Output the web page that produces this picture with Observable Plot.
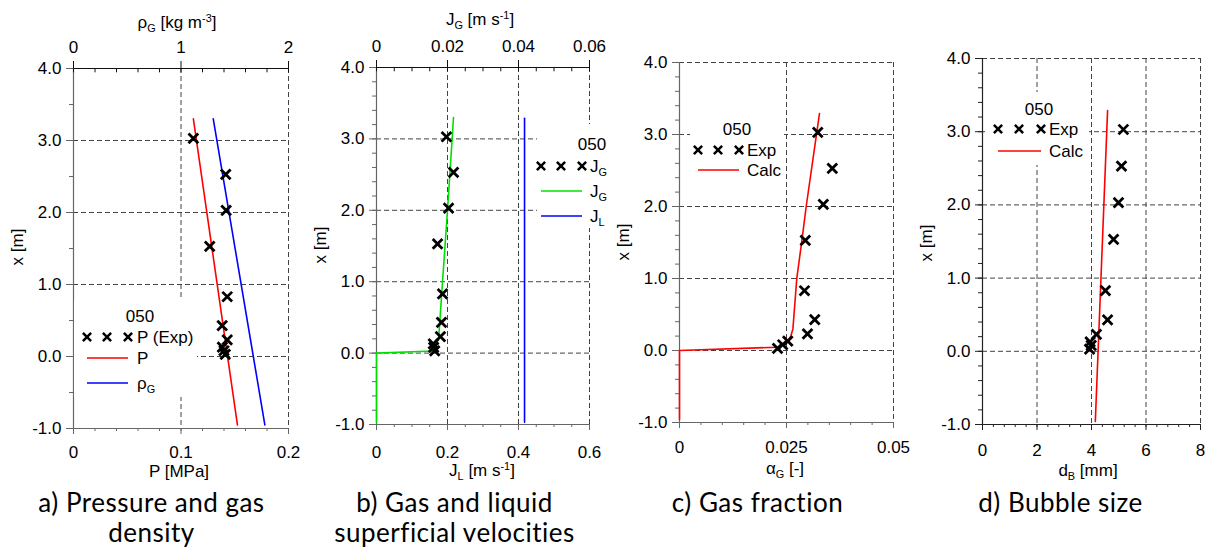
<!DOCTYPE html>
<html>
<head>
<meta charset="utf-8">
<script src="https://cdn.jsdelivr.net/npm/d3@7"></script>
<script src="https://cdn.jsdelivr.net/npm/@observablehq/plot@0.6"></script>
<style>
  body { margin: 0; background: #fff; }
  #fig { position: relative; width: 1212px; height: 549px; overflow: hidden; background: #fff;
         font-family: "Liberation Sans", Arial, sans-serif; }
  .panel { position: absolute; top: 0; width: 303px; }
  .caption { position: absolute; width: 303px; text-align: center; font-family: Lato, "Open Sans", sans-serif;
             font-size: 26px; line-height: 30px; letter-spacing: 0.5px; color: #000; white-space: nowrap; }
</style>
</head>
<body>
<div id="fig"></div>
<script>
// ---- Measurement ports along the column [m] ----
const expX = [3.03, 2.53, 2.03, 1.53, 0.83, 0.43, 0.23, 0.13, 0.08, 0.03];

// ---- a) Pressure and gas density ----
const pExp = [0.1115, 0.1416, 0.1420, 0.1267, 0.1430, 0.1383, 0.1430, 0.1385, 0.1400, 0.1412]; // MPa
const calcXa = [3.3, -0.95];
const pCalc = [0.1115, 0.1525];   // MPa
const rhoCalc = [1.30, 1.78];     // kg m-3

// ---- b) Superficial velocities ----
const jgExp = [0.0197, 0.0217, 0.0203, 0.0172, 0.0186, 0.0183, 0.0180, 0.0160, 0.0161, 0.0164]; // m/s
const calcXjg = [3.3, 2.0, 1.0, 0.2, 0.03, 0.0, -0.97];
const jgCalc = [0.0217, 0.0200, 0.0186, 0.0175, 0.0158, 0.0, 0.0];
const calcXjl = [3.29, -0.97];
const jlCalc = [0.417, 0.417];

// ---- c) Gas fraction ----
const alphaExp = [0.0323, 0.0357, 0.0336, 0.0294, 0.0292, 0.0316, 0.0299, 0.0253, 0.0241, 0.0229];
const calcXalpha = [3.29, 2.0, 1.53, 1.0, 0.3, 0.2, 0.115, 0.046, 0.0, -0.96];
const alphaCalc = [0.0327, 0.0296, 0.0286, 0.0274, 0.0265, 0.0260, 0.0251, 0.0229, 0.0, 0.0];

// ---- d) Bubble size ----
const dbExp = [5.17, 5.10, 4.99, 4.81, 4.51, 4.59, 4.18, 3.95, 3.99, 3.93]; // mm
const calcXdb = [3.29, -0.96];
const dbCalc = [4.59, 4.14];

// ---- Tick values and labels ----
const yTicks = [-1, 0, 1, 2, 3, 4];
const pTicks = [0, 0.1, 0.2],          pLabels = ["0", "0.1", "0.2"];
const rhoTicks = [0, 1, 2],            rhoLabels = ["0", "1", "2"];
const jlTicks = [0, 0.2, 0.4, 0.6],    jlLabels = ["0", "0.2", "0.4", "0.6"];
const jgTicks = [0, 0.02, 0.04, 0.06], jgLabels = ["0", "0.02", "0.04", "0.06"];
const alphaTicks = [0, 0.025, 0.05],   alphaLabels = ["0", "0.025", "0.05"];
const dbTicks = [0, 2, 4, 6, 8],       dbLabels = ["0", "2", "4", "6", "8"];

// secondary-axis scale factors (top axis value -> bottom axis units)
const RHO_TO_P = 0.1;
const JG_TO_JL = 10;

const RED = "#ff0000", BLUE = "#0000ff", GREEN = "#00e000";
const W = 303, H = 480;
const FS = 17; // base font size

const rows = (xs, cols) => xs.map((x, i) => {
  const r = {x};
  for (const k in cols) r[k] = cols[k][i];
  return r;
});
const fmtY = d => (d < 0 ? "-" : "") + Math.abs(d).toFixed(1);
const tickLabel = (ticks, labels, k = 1) => d => {
  const i = ticks.findIndex(t => Math.abs(t * k - d) < 1e-9);
  return i < 0 ? "" : labels[i];
};
const GRID = {stroke: "#444", strokeOpacity: 1, strokeDasharray: "5,3", strokeWidth: 1};

// Text with sub/superscript parts: [[text, "sub"|"sup"|""], ...]
function richText(g, x, y, parts, {size = FS, anchor = "middle", rotate = 0} = {}) {
  const t = g.append("text")
    .attr("transform", `translate(${x},${y})` + (rotate ? ` rotate(${rotate})` : ""))
    .attr("text-anchor", anchor)
    .attr("font-size", size)
    .attr("fill", "#000");
  let shift = 0;
  for (const [s, kind] of parts) {
    const target = kind === "sub" ? 3.5 : kind === "sup" ? -6 : 0;
    const ts = t.append("tspan").text(s).attr("dy", target - shift);
    if (kind) ts.attr("font-size", size * 0.64);
    shift = target;
  }
  return t;
}

function legend(svg, spec) {
  const g = d3.select(svg).append("g").attr("font-size", FS);
  g.append("rect").attr("x", spec.box[0]).attr("y", spec.box[1])
    .attr("width", spec.box[2] - spec.box[0]).attr("height", spec.box[3] - spec.box[1])
    .attr("fill", "#fff");
  g.append("text").attr("x", spec.titleX).attr("y", spec.titleY).attr("dy", "0.35em")
    .attr("text-anchor", "middle").text("050");
  for (const r of spec.rows) {
    if (r.type === "dot") {
      for (const x of spec.xs) {
        g.append("path").attr("d", d3.symbol(d3.symbolTimes, 46)())
          .attr("transform", `translate(${x},${r.y})`)
          .attr("fill", "none").attr("stroke", "#000").attr("stroke-width", 2.5);
      }
    } else {
      g.append("line").attr("x1", spec.xs[0]).attr("x2", spec.xs[spec.xs.length - 1])
        .attr("y1", r.y).attr("y2", r.y).attr("stroke", r.stroke).attr("stroke-width", 1.6);
    }
    richText(g, spec.textX, r.y + 6, r.label, {size: FS, anchor: "start"});
  }
}

function panel(o) {
  const yMinor = d3.range(-1, 4.0001, o.yMinorStep);
  const marks = [
    Plot.gridX(o.xGrid, GRID),
    Plot.gridY(o.yGrid, GRID),
    // left axis
    Plot.axisY(yMinor, {tickSize: 4, tickFormat: () => "", label: null, stroke: o.axisColor}),
    Plot.axisY(yTicks, {tickSize: 7, tickPadding: 5, tickFormat: fmtY, label: null, stroke: o.axisColor, fontSize: FS}),
    Plot.ruleX([0], {stroke: o.axisColor, strokeWidth: 1.2}),
    // bottom axis
    Plot.axisX(o.xMinor, {anchor: "bottom", tickSize: 3, tickFormat: () => "", label: null, stroke: o.axisColor}),
    Plot.axisX(o.xTicks, {anchor: "bottom", tickSize: 6, tickPadding: o.xPad, tickFormat: tickLabel(o.xTicks, o.xLabels),
                          label: null, stroke: o.axisColor, fontSize: FS}),
    Plot.ruleY([-1], {stroke: o.axisColor, strokeWidth: 1.2}),
    ...(o.extra || []),
    ...o.data
  ];
  const svg = Plot.plot({
    width: W, height: H,
    marginLeft: 73, marginRight: o.mr, marginTop: o.mt, marginBottom: H - o.bottom,
    x: {domain: o.xDomain},
    y: {domain: [-1, 4]},
    style: {fontFamily: "'Liberation Sans', Arial, sans-serif", fontSize: FS + "px", color: "#000",
            background: "transparent", overflow: "visible"},
    marks
  });
  const g = d3.select(svg).append("g");
  richText(g, o.labelX, o.bottomLabelY, o.bottomLabel);
  if (o.topLabel) richText(g, o.labelX - 2, o.topLabelY, o.topLabel);
  richText(g, 23, o.yLabelY, [["x [m]", ""]], {rotate: -90});
  legend(svg, o.legend);
  const div = document.createElement("div");
  div.className = "panel";
  div.style.left = o.left + "px";
  div.appendChild(svg);
  document.getElementById("fig").appendChild(div);
}

const dotStyle = {symbol: "times", r: 4.5, stroke: "#000", strokeWidth: 2.8};

// a) Pressure and gas density
panel({
  left: 0, mt: 68, bottom: 428, mr: 15,
  xDomain: [0, 0.2], xTicks: pTicks, xLabels: pLabels, xMinor: d3.range(0, 0.2001, 0.02), xPad: 11,
  xGrid: [0.1, 0.2], yGrid: [0, 1, 2, 3, 4], yMinorStep: 0.5, axisColor: "#666",
  labelX: 179, bottomLabelY: 477, topLabelY: 28, yLabelY: 247,
  bottomLabel: [["P [MPa]", ""]],
  topLabel: [["ρ", ""], ["G", "sub"], [" [kg m", ""], ["-3", "sup"], ["]", ""]],
  extra: [
    Plot.ruleX(d3.range(0, 2.001, 0.2).map(r => r * RHO_TO_P), {y1: 4, y2: 3.94, stroke: "#111"}),
    Plot.axisX(rhoTicks.map(r => r * RHO_TO_P), {anchor: "top", tickSize: 8, tickPadding: 8,
      tickFormat: tickLabel(rhoTicks, rhoLabels, RHO_TO_P), label: null, stroke: "#111", fontSize: FS}),
    Plot.ruleY([4], {stroke: "#111"})
  ],
  data: [
    Plot.line(rows(calcXa, {v: pCalc}), {x: "v", y: "x", stroke: RED, strokeWidth: 1.6}),
    Plot.line(rows(calcXa, {v: rhoCalc}), {x: d => d.v * RHO_TO_P, y: "x", stroke: BLUE, strokeWidth: 1.6}),
    Plot.dot(rows(expX, {v: pExp}), {x: "v", y: "x", ...dotStyle})
  ],
  legend: {box: [74, 300, 197, 397], titleX: 140, titleY: 316, xs: [87, 107, 128], textX: 137,
    rows: [
      {type: "dot", y: 337, label: [["P (Exp)", ""]]},
      {type: "line", y: 358, stroke: RED, label: [["P", ""]]},
      {type: "line", y: 383, stroke: BLUE, label: [["ρ", ""], ["G", "sub"]]}
    ]}
});

// b) Gas and liquid superficial velocities
panel({
  left: 303, mt: 67, bottom: 424, mr: 17,
  xDomain: [0, 0.6], xTicks: jlTicks, xLabels: jlLabels, xMinor: d3.range(0, 0.6001, 0.05), xPad: 15,
  xGrid: [0.2, 0.4, 0.6], yGrid: [0, 1, 2, 3, 4], yMinorStep: 0.2, axisColor: "#666",
  labelX: 179, bottomLabelY: 476, topLabelY: 25, yLabelY: 245,
  bottomLabel: [["J", ""], ["L", "sub"], [" [m s", ""], ["-1", "sup"], ["]", ""]],
  topLabel: [["J", ""], ["G", "sub"], [" [m s", ""], ["-1", "sup"], ["]", ""]],
  extra: [
    Plot.ruleX(d3.range(0, 0.06001, 0.005).map(v => v * JG_TO_JL), {y1: 4, y2: 3.94, stroke: "#111"}),
    Plot.axisX(jgTicks.map(v => v * JG_TO_JL), {anchor: "top", tickSize: 8, tickPadding: 8,
      tickFormat: tickLabel(jgTicks, jgLabels, JG_TO_JL), label: null, stroke: "#111", fontSize: FS}),
    Plot.ruleY([4], {stroke: "#111"})
  ],
  data: [
    Plot.line(rows(calcXjg, {v: jgCalc}), {x: d => d.v * JG_TO_JL, y: "x", stroke: GREEN, strokeWidth: 1.6}),
    Plot.line(rows(calcXjl, {v: jlCalc}), {x: "v", y: "x", stroke: BLUE, strokeWidth: 1.6}),
    Plot.dot(rows(expX, {v: jgExp}), {x: d => d.v * JG_TO_JL, y: "x", ...dotStyle})
  ],
  legend: {box: [234, 124, 310, 228], titleX: 289, titleY: 144, xs: [238, 258, 279], textX: 287,
    rows: [
      {type: "dot", y: 166, label: [["J", ""], ["G", "sub"]]},
      {type: "line", y: 191, stroke: GREEN, label: [["J", ""], ["G", "sub"]]},
      {type: "line", y: 216, stroke: BLUE, label: [["J", ""], ["L", "sub"]]}
    ]}
});

// c) Gas fraction
panel({
  left: 606, mt: 62, bottom: 422, mr: 16,
  xDomain: [0, 0.05], xTicks: alphaTicks, xLabels: alphaLabels, xMinor: d3.range(0, 0.05001, 0.005), xPad: 12,
  xGrid: [0.025, 0.05], yGrid: [0, 1, 2, 3, 4], yMinorStep: 0.2, axisColor: "#666",
  labelX: 179, bottomLabelY: 474, yLabelY: 242,
  bottomLabel: [["α", ""], ["G", "sub"], [" [-]", ""]],
  data: [
    Plot.line(rows(calcXalpha, {v: alphaCalc}), {x: "v", y: "x", stroke: RED, strokeWidth: 1.6}),
    Plot.dot(rows(expX, {v: alphaExp}), {x: "v", y: "x", ...dotStyle})
  ],
  legend: {box: [84, 116, 178, 185], titleX: 131, titleY: 129, xs: [92, 112, 133], textX: 141,
    rows: [
      {type: "dot", y: 150, label: [["Exp", ""]]},
      {type: "line", y: 170, stroke: RED, label: [["Calc", ""]]}
    ]}
});

// d) Bubble size
panel({
  left: 909, mt: 58, bottom: 424, mr: 12,
  xDomain: [0, 8], xTicks: dbTicks, xLabels: dbLabels, xMinor: d3.range(0, 8.001, 0.4), xPad: 13,
  xGrid: [2, 4, 6, 8], yGrid: [0, 1, 2, 3, 4], yMinorStep: 0.2, axisColor: "#222",
  labelX: 179, bottomLabelY: 476, yLabelY: 243,
  bottomLabel: [["d", ""], ["B", "sub"], [" [mm]", ""]],
  data: [
    Plot.line(rows(calcXdb, {v: dbCalc}), {x: "v", y: "x", stroke: RED, strokeWidth: 1.6}),
    Plot.dot(rows(expX, {v: dbExp}), {x: "v", y: "x", ...dotStyle})
  ],
  legend: {box: [76, 92, 180, 165], titleX: 130, titleY: 109, xs: [89, 110, 132], textX: 140,
    rows: [
      {type: "dot", y: 129, label: [["Exp", ""]]},
      {type: "line", y: 151, stroke: RED, label: [["Calc", ""]]}
    ]}
});

// Panel captions
const captions = ["a) Pressure and gas<br>density", "b) Gas and liquid<br>superficial velocities",
                  "c) Gas fraction", "d) Bubble size"];
captions.forEach((c, i) => {
  const d = document.createElement("div");
  d.className = "caption";
  d.style.left = (i * W) + "px";
  d.style.top = "487px";
  d.innerHTML = c;
  document.getElementById("fig").appendChild(d);
});
</script>
</body>
</html>
